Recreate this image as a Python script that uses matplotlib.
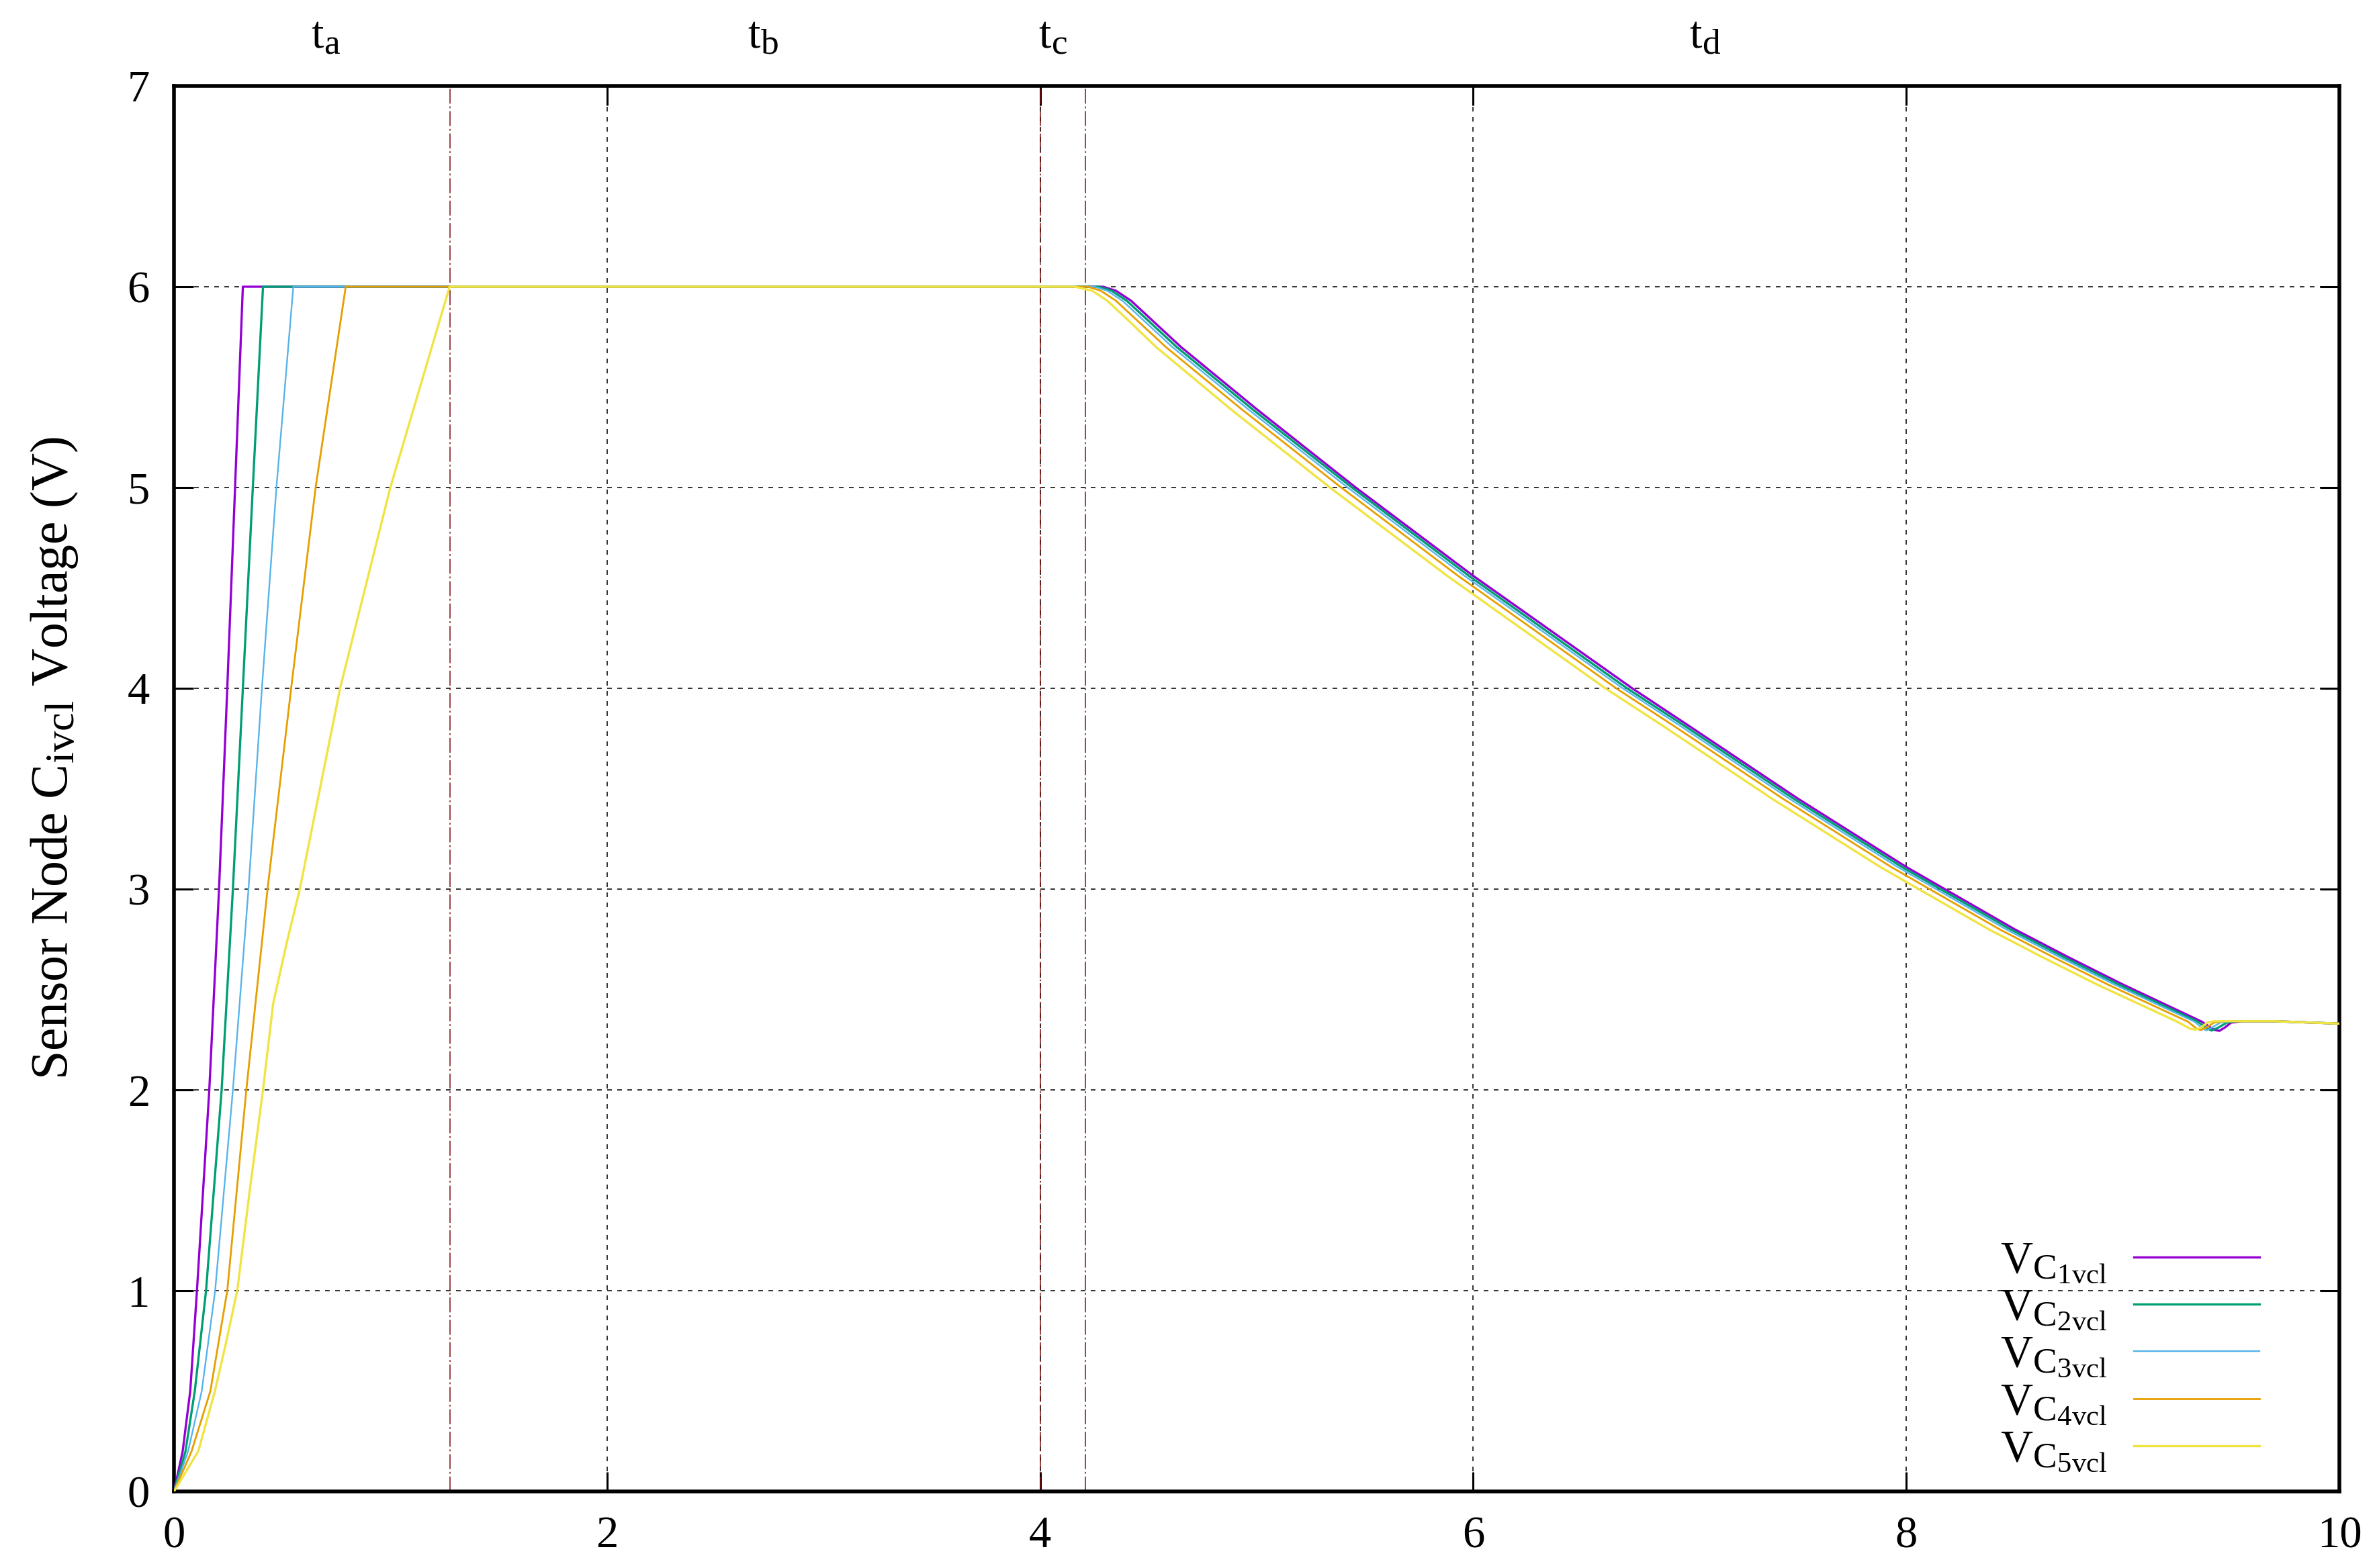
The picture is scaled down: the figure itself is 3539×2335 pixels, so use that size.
import matplotlib
matplotlib.use("Agg")
import matplotlib.pyplot as plt
import matplotlib._mathtext as _mt

# gnuplot-like subscripts (0.8 instead of 0.7)
_mt.SHRINK_FACTOR = 0.8

plt.rcParams['font.family'] = ['Liberation Serif', 'DejaVu Serif']
plt.rcParams['mathtext.fontset'] = 'custom'
plt.rcParams['mathtext.rm'] = 'Liberation Serif'
plt.rcParams['mathtext.it'] = 'Liberation Serif'
plt.rcParams['lines.scale_dashes'] = False

# time (s) and voltage (V), one pair per node
t1 = [0, 0.04, 0.075, 0.106, 0.163, 0.208, 0.246, 0.282, 0.318,
      4.29, 4.35, 4.42, 4.50, 4.65, 5.00, 5.457, 6.00, 6.734, 7.00, 7.50, 8.00, 8.25, 8.50, 8.75,
      9.00, 9.364, 9.42, 9.445, 9.47, 9.50, 9.55, 9.70, 10.0]
v1 = [0, 0.2, 0.5, 1, 2, 3, 4, 5, 6,
      6, 5.98, 5.93, 5.85, 5.70, 5.39, 5.0, 4.56, 4.0, 3.81, 3.45, 3.11, 2.955, 2.80, 2.66,
      2.525, 2.34, 2.30, 2.294, 2.31, 2.335, 2.342, 2.342, 2.33]

t2 = [0, 0.053, 0.096, 0.148, 0.220, 0.272, 0.318, 0.364, 0.411,
      4.27, 4.33, 4.40, 4.48, 4.63, 4.98, 5.44, 5.98, 6.71, 6.98, 7.48, 7.98, 8.23, 8.48, 8.73,
      8.98, 9.345, 9.39, 9.41, 9.44, 9.48, 9.52, 9.70, 10.0]
v2 = [0, 0.2, 0.5, 1, 2, 3, 4, 5, 6,
      6, 5.98, 5.93, 5.85, 5.70, 5.39, 5.0, 4.56, 4.0, 3.81, 3.45, 3.11, 2.955, 2.80, 2.66,
      2.525, 2.34, 2.305, 2.296, 2.31, 2.335, 2.342, 2.342, 2.33]

t3 = [0, 0.065, 0.128, 0.190, 0.272, 0.344, 0.406, 0.473, 0.551,
      4.25, 4.31, 4.38, 4.46, 4.61, 4.96, 5.42, 5.96, 6.69, 6.96, 7.46, 7.96, 8.21, 8.46, 8.71,
      8.96, 9.33, 9.37, 9.385, 9.41, 9.45, 9.49, 9.70, 10.0]
v3 = [0, 0.2, 0.5, 1, 2, 3, 4, 5, 6,
      6, 5.98, 5.93, 5.85, 5.70, 5.39, 5.0, 4.56, 4.0, 3.81, 3.45, 3.11, 2.955, 2.80, 2.66,
      2.525, 2.34, 2.305, 2.296, 2.31, 2.335, 2.342, 2.342, 2.33]

t4 = [0, 0.081, 0.168, 0.246, 0.334, 0.432, 0.541, 0.654, 0.793,
      4.22, 4.28, 4.35, 4.43, 4.58, 4.93, 5.39, 5.93, 6.66, 6.93, 7.43, 7.93, 8.18, 8.43, 8.68,
      8.93, 9.30, 9.34, 9.36, 9.385, 9.42, 9.46, 9.70, 10.0]
v4 = [0, 0.2, 0.5, 1, 2, 3, 4, 5, 6,
      6, 5.98, 5.93, 5.85, 5.70, 5.39, 5.0, 4.56, 4.0, 3.81, 3.45, 3.11, 2.955, 2.80, 2.66,
      2.525, 2.34, 2.305, 2.298, 2.31, 2.335, 2.342, 2.342, 2.33]

t5 = [0, 0.112, 0.189, 0.240, 0.292, 0.350, 0.411, 0.458, 0.520, 0.581, 0.767, 0.999, 1.273,
      4.16, 4.24, 4.31, 4.39, 4.535, 4.88, 5.338, 5.88, 6.61, 6.88, 7.38, 7.88, 8.13, 8.38, 8.63,
      8.88, 9.25, 9.31, 9.335, 9.36, 9.39, 9.42, 9.70, 10.0]
v5 = [0, 0.2, 0.5, 0.74, 1, 1.5, 2, 2.43, 2.73, 3, 4, 5, 6,
      6, 5.98, 5.93, 5.85, 5.70, 5.39, 5.0, 4.56, 4.0, 3.81, 3.45, 3.11, 2.955, 2.80, 2.66,
      2.525, 2.34, 2.305, 2.30, 2.31, 2.335, 2.342, 2.342, 2.33]

labels = [r'$\mathregular{V_{C_{1vcl}}}$', r'$\mathregular{V_{C_{2vcl}}}$',
          r'$\mathregular{V_{C_{3vcl}}}$', r'$\mathregular{V_{C_{4vcl}}}$',
          r'$\mathregular{V_{C_{5vcl}}}$']
colors = ['#9400d3', '#009e73', '#56b4e9', '#e69f00', '#f0e442']
widths = [2.4, 2.4, 1.7, 2.0, 2.4]

# phase boundaries and the phase names written above the plot
boundaries = [1.275, 4.0, 4.21]
phase_names = [r'$\mathregular{t_a}$', r'$\mathregular{t_b}$',
               r'$\mathregular{t_c}$', r'$\mathregular{t_d}$']
phase_pos = [0.70, 2.72, 4.06, 7.07]

FS = 48

fig = plt.figure(figsize=(35.39, 23.35), dpi=100)
ax = fig.add_subplot(111)
fig.subplots_adjust(left=0.0732, right=0.9842, top=0.9452, bottom=0.0488)

series = [(t1, v1), (t2, v2), (t3, v3), (t4, v4), (t5, v5)]
for (t, v), lab, c, lw in zip(series, labels, colors, widths):
    ax.plot(t, v, color=c, lw=lw, label=lab, zorder=3)

for b in boundaries:
    ax.axvline(b, color='#7a1010', lw=1.1, linestyle=(0, (16, 3, 2, 3)), zorder=2)

for name, x in zip(phase_names, phase_pos):
    ax.text(x, 1.027, name, transform=ax.get_xaxis_transform(),
            ha='center', va='baseline', fontsize=FS)

ax.set_xlim(0, 10)
ax.set_ylim(0, 7)
ax.set_xticks(range(0, 11, 2))
ax.set_yticks(range(0, 8))
ax.grid(True, color='#222222', lw=1.3, linestyle=(0, (5, 5.8)))
ax.set_axisbelow(True)
ax.tick_params(direction='in', length=21, width=2.2, top=True, right=True,
               labelsize=FS, pad=26)
for s in ax.spines.values():
    s.set_linewidth(4)
ax.set_ylabel(r'Sensor Node $\mathregular{C_{ivcl}}$ Voltage (V)', fontsize=56)
ax.yaxis.set_label_coords(-0.0434, 0.522)

ax.legend(loc='lower right', bbox_to_anchor=(0.963, 0.0123), frameon=False,
          markerfirst=False, fontsize=FS, handlelength=2.8, handletextpad=0.6,
          borderpad=0, borderaxespad=0, labelspacing=0.07)

fig.savefig('out.png', dpi=100)
